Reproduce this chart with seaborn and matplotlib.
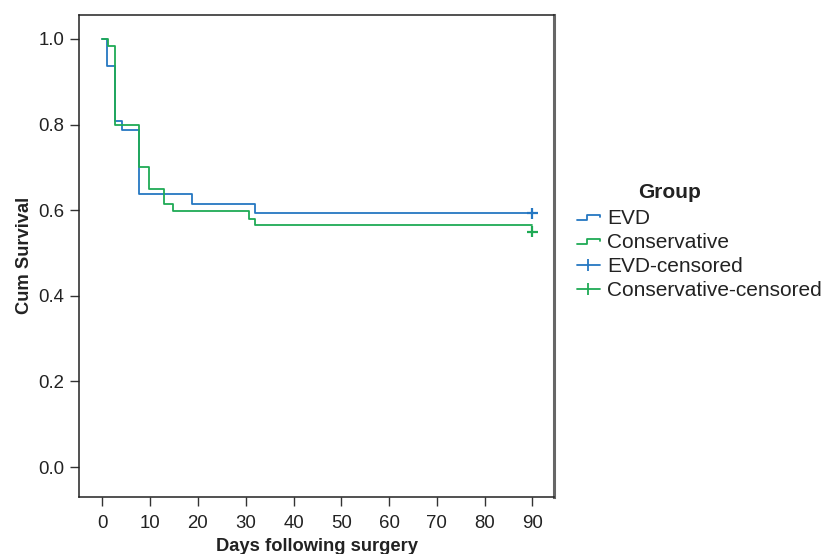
import numpy as np
import pandas as pd
import seaborn as sns
import matplotlib.pyplot as plt
from matplotlib.lines import Line2D
from matplotlib.legend_handler import HandlerBase

# Kaplan-Meier step points (day, cumulative survival)
evd_days = [0, 0.9, 2.6, 4.0, 7.7, 18.7, 31.9, 90]
evd_surv = [1.0, 0.937, 0.809, 0.787, 0.638, 0.615, 0.594, 0.594]
cons_days = [0, 1.1, 2.6, 7.7, 9.7, 12.9, 14.7, 30.7, 31.9, 90]
cons_surv = [1.0, 0.984, 0.798, 0.700, 0.650, 0.615, 0.599, 0.580, 0.565, 0.565]

cens_days = [90, 90]
cens_surv = [0.593, 0.550]
cens_group = ["EVD", "Conservative"]

groups = ["EVD", "Conservative"]
colors = {"EVD": "#2577c2", "Conservative": "#1faa55"}

x_ticks = [0, 10, 20, 30, 40, 50, 60, 70, 80, 90]
y_ticks = [0.0, 0.2, 0.4, 0.6, 0.8, 1.0]

df = pd.DataFrame({
    "day": evd_days + cons_days,
    "surv": evd_surv + cons_surv,
    "group": ["EVD"] * len(evd_days) + ["Conservative"] * len(cons_days),
})
cens = pd.DataFrame({"day": cens_days, "surv": cens_surv, "group": cens_group})

sns.set_theme(style="white")
plt.rcParams["font.family"] = ["Liberation Sans", "DejaVu Sans"]

fig = plt.figure(figsize=(8.25, 5.54), dpi=100)
ax = fig.add_axes([79 / 825, 1 - 497 / 554, (554 - 79) / 825, (497 - 14.5) / 554])

sns.lineplot(data=df, x="day", y="surv", hue="group", hue_order=groups,
             palette=colors, drawstyle="steps-post", estimator=None, sort=False,
             linewidth=1.3, legend=False, ax=ax)
sns.scatterplot(data=cens, x="day", y="surv", hue="group", hue_order=groups,
                palette=colors, marker="+", s=60, linewidth=1.6,
                legend=False, ax=ax, zorder=3)

ax.set_xlim(-4.9, 94.5)
ax.set_ylim(-0.07, 1.057)
ax.set_xticks(x_ticks)
ax.set_xticklabels([str(t) for t in x_ticks])
ax.set_yticks(y_ticks)
ax.set_yticklabels([f"{t:.1f}" for t in y_ticks])
ax.tick_params(axis="both", which="major", direction="out", length=6.5, width=1,
               color="#333333", labelsize=13.4, labelcolor="#222222", pad=4,
               bottom=True, left=True)
ax.tick_params(axis="x", pad=6.5)
ax.set_xlabel("Days following surgery", fontsize=13.2, fontweight="bold",
              color="#222222", labelpad=4)
ax.set_ylabel("Cum Survival", fontsize=13.2, fontweight="bold",
              color="#222222", labelpad=4)

for side in ["left", "bottom", "top"]:
    ax.spines[side].set_color("#222222")
    ax.spines[side].set_linewidth(1.1)
ax.spines["right"].set_color("#666666")
ax.spines["right"].set_linewidth(2.2)


class StepHandler(HandlerBase):
    def create_artists(self, legend, orig_handle, xdescent, ydescent,
                       width, height, fontsize, trans):
        xs = np.array([0, 0.45, 0.45, 1, 1]) * width - xdescent
        ys = np.array([0.3, 0.3, 0.65, 0.65, 0.5]) * height - ydescent
        line = Line2D(xs, ys, color=orig_handle.get_color(),
                      lw=orig_handle.get_linewidth())
        line.set_transform(trans)
        return [line]


step_evd = Line2D([], [], color=colors["EVD"], lw=1.3)
step_cons = Line2D([], [], color=colors["Conservative"], lw=1.3)
cens_evd = Line2D([0], [0], color=colors["EVD"], lw=1.3, marker="|",
                  markersize=8, markeredgewidth=1.3)
cens_cons = Line2D([0], [0], color=colors["Conservative"], lw=1.3, marker="|",
                   markersize=8, markeredgewidth=1.3)

leg = fig.legend([step_evd, step_cons, cens_evd, cens_cons],
                 ["EVD", "Conservative", "EVD-censored", "Conservative-censored"],
                 handler_map={step_evd: StepHandler(), step_cons: StepHandler()},
                 loc="upper left", bbox_to_anchor=(577 / 825, 1 - 209 / 554),
                 frameon=False, fontsize=15, borderpad=0, borderaxespad=0,
                 handlelength=1.1, handletextpad=0.33, labelspacing=0.24,
                 numpoints=1)
for t in leg.get_texts():
    t.set_color("#222222")

fig.text(670 / 825, 1 - 192 / 554, "Group", fontsize=15, fontweight="bold",
         color="#222222", ha="center", va="center")

fig.savefig("out.png", dpi=100)
